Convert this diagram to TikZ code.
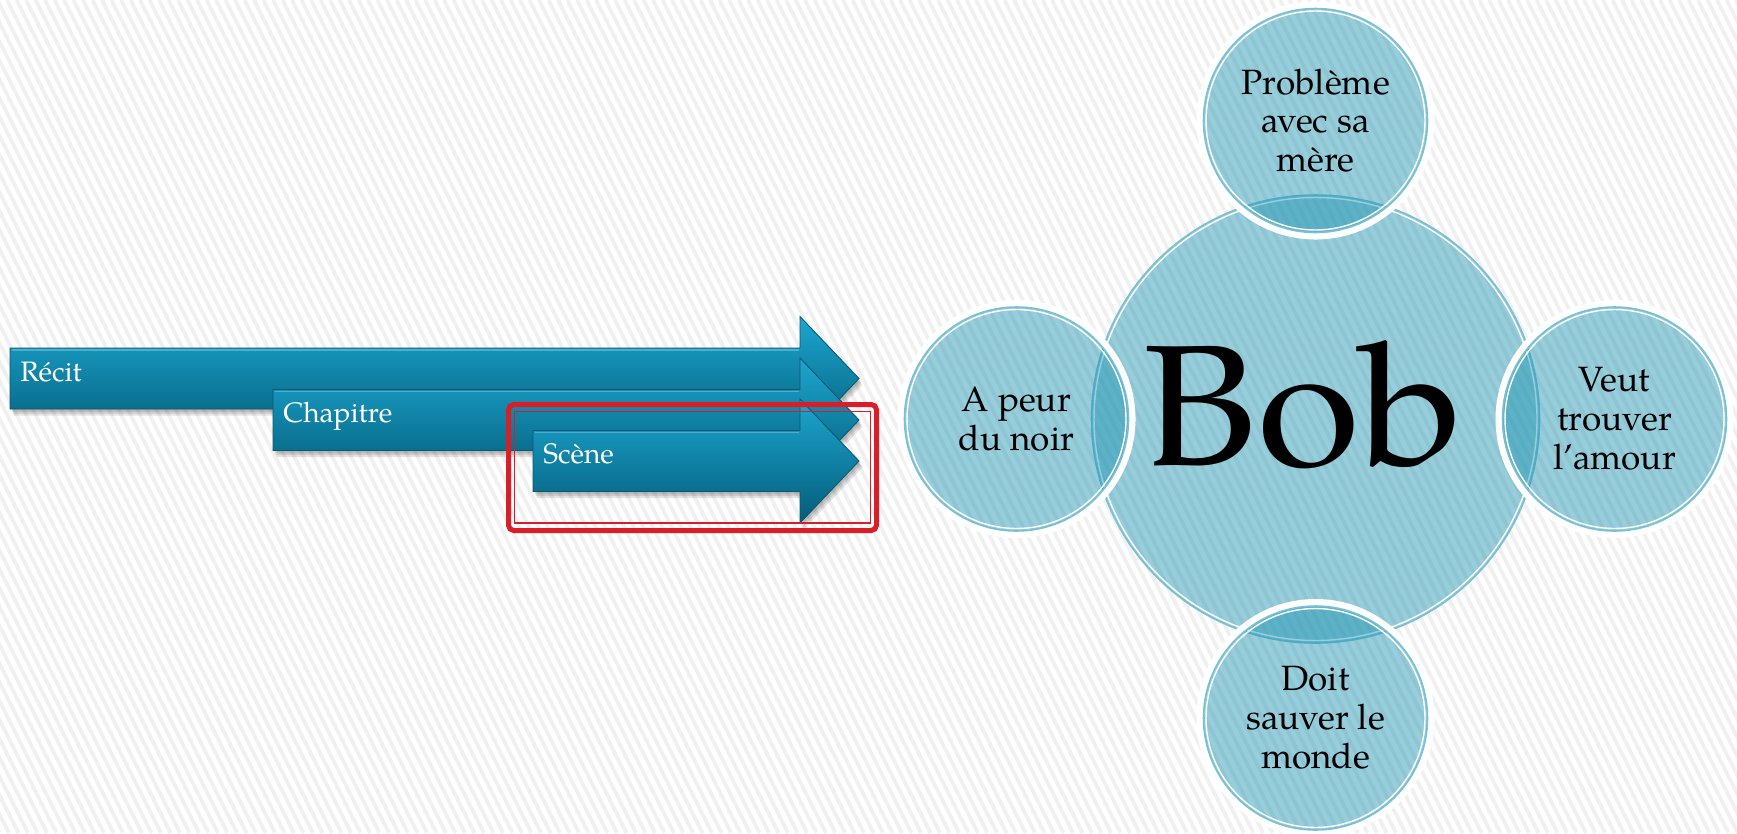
\documentclass[tikz,border=0pt]{standalone}
\usepackage{fontspec}
\setmainfont{texgyrepagella}[Extension=.otf, UprightFont=*-regular, BoldFont=*-bold, ItalicFont=*-italic, BoldItalicFont=*-bolditalic]
\definecolor{arrtop}{RGB}{28,166,208}
\definecolor{arrbot}{RGB}{4,92,120}
\definecolor{arredge}{RGB}{8,88,114}
\definecolor{circbase}{RGB}{20,144,176}
\definecolor{circline}{RGB}{120,192,212}
\definecolor{boxred}{RGB}{218,30,40}
\definecolor{stripegray}{RGB}{240,240,240}
\newcommand\arrpath[2]{(#1,#2-30.5) -- (800,#2-30.5) -- (800,#2-62) -- (859,#2) -- (800,#2+62) -- (800,#2+30.5) -- (#1,#2+30.5) -- cycle}
\begin{document}
\begin{tikzpicture}[x=0.02cm,y=-0.02cm,
  stripe/.style={stripegray, line width=2.1pt},
  arrshadow/.style={fill=black, fill opacity=0.1, draw=none},
  arrbody/.style={top color=arrtop, bottom color=arrbot, draw=arredge, line width=0.5pt, line join=miter},
  arrlabel/.style={anchor=base west, text=white, inner sep=0pt, font=\fontsize{16}{18}\selectfont},
  circfill/.style={fill=circbase, fill opacity=0.44},
  halo/.style={draw=white, line width=4pt},
  rimteal/.style={draw=circline, line width=0.9pt},
  rimwhite/.style={draw=white, line width=0.8pt},
  ctext/.style={align=center, inner sep=0pt, text=black, font=\fontsize{20}{22.1}\selectfont},
  boxouter/.style={draw=boxred, line width=2.85pt, rounded corners=3pt},
  boxinner/.style={draw=boxred, line width=1.1pt}
]
\useasboundingbox (0,0) rectangle (1737,833);
\fill[white] (0,0) rectangle (1737,833);
% background stripes
\begin{scope}
\clip (0,0) rectangle (1737,833);
\foreach \i in {-430,-420.5,...,1740} \draw[stripe] (\i,0) -- (\i+420,833);
\end{scope}

% arrows
\foreach \x/\c/\t/\n in {10/378.5/Récit/recit, 273/420/Chapitre/chapitre, 533/461/Scène/scene}{
  \foreach \s in {(1.5,2.5),(2.5,4.5),(3.5,6.5)}
    \path[arrshadow, shift={\s}] \arrpath{\x}{\c};
  \path[arrbody] \arrpath{\x}{\c};
  \draw[white, opacity=0.25, line width=0.8pt] (\x+1.5,\c-28.5) -- (799,\c-28.5);
  \node[arrlabel] (\n) at (\x+10,\c+2.5) {\t};
}

% red highlight frame
\draw[boxouter] (508.5,404.5) rectangle (876.5,530.5);
\draw[boxinner] (514.5,411.5) rectangle (870.5,523);

% circles
\coordinate (cB) at (1315.5,419);
\coordinate (cT) at (1315.5,120.5);
\coordinate (cL) at (1016.5,419);
\coordinate (cR) at (1614.5,419);
\coordinate (cD) at (1315.5,718);

\fill[circfill] (cB) circle (224);
\draw[rimteal] (cB) circle (224);
\draw[rimwhite] (cB) circle (221.5);

\foreach \p in {cT,cL,cR,cD}{
  \draw[halo] (\p) circle (115.5);
  \fill[circfill] (\p) circle (112);
  \draw[rimteal] (\p) circle (112);
  \draw[rimwhite] (\p) circle (109.5);
}

\node[anchor=base, inner sep=0pt, font=\fontsize{98}{100}\selectfont] (bob) at (1303,465) {\scalebox{1.09}[1]{Bob}};
\node[ctext] (tprob) at (cT) {Problème\\avec sa\\mère};
\node[ctext] (tpeur) at (cL) {A peur\\du noir};
\node[ctext] (tveut) at (cR) {Veut\\trouver\\l’amour};
\node[ctext] (tdoit) at (cD) {Doit\\sauver le\\monde};
\end{tikzpicture}
\end{document}
